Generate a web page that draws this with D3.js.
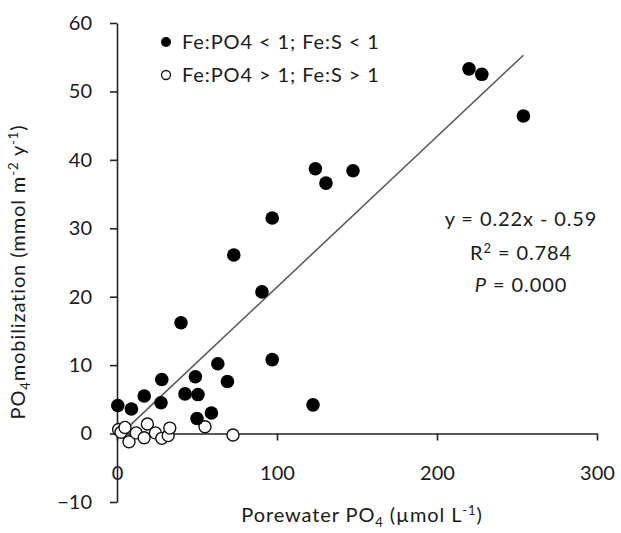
<!DOCTYPE html>
<html lang="en">
<head>
<meta charset="UTF-8">
<title>PO4 mobilization</title>
<script src="https://d3js.org/d3.v7.min.js"></script>
<style>
  body { margin: 0; background: #fff; }
  svg text { font-family: Lato, "Open Sans", sans-serif; fill: #1a1a1a; }
  .wide { letter-spacing: 0.9px; }
</style>
</head>
<body>
<svg class="chart"></svg>
<script>
const W = 621, H = 533

// Fe:PO4 < 1; Fe:S < 1  (filled)
const lowX = [0.5, 9, 17, 27.5, 28, 40, 42.5, 49, 50, 50.6, 59, 63, 69, 73, 90.6, 97, 97, 122.5, 124, 130.6, 147.5, 220, 228, 254]
const lowY = [4.1, 3.6, 5.5, 4.5, 7.9, 16.2, 5.8, 8.3, 2.2, 5.7, 3.0, 10.2, 7.6, 26.1, 20.7, 31.5, 10.8, 4.2, 38.7, 36.6, 38.4, 53.3, 52.5, 46.4]
// Fe:PO4 > 1; Fe:S > 1  (open)
const highX = [1, 2.5, 5, 7.5, 12, 17, 19, 24, 28, 32, 33, 55, 72.5]
const highY = [0.6, 0.2, 0.9, -1.2, 0.1, -0.6, 1.4, 0.1, -0.7, -0.3, 0.8, 1.0, -0.2]

const xTicks = [0, 100, 200, 300]
const yTicks = [-10, 0, 10, 20, 30, 40, 50, 60]
const slope = 0.22, intercept = -0.59

const svg = d3.select(".chart").attr("width", W).attr("height", H)

const x = d3.scaleLinear().domain([0, 300]).range([117, 597])
const y = d3.scaleLinear().domain([-10, 60]).range([502, 23])

// y axis
const gy = svg.append("g").attr("transform", `translate(${x(0)},0)`)
  .call(d3.axisLeft(y).tickValues(yTicks).tickSize(7).tickPadding(18).tickSizeOuter(0))
gy.select(".domain").attr("stroke", "#222").attr("stroke-width", 1.6)
gy.selectAll(".tick line").attr("stroke", "#222").attr("stroke-width", 1.6)
gy.selectAll(".tick text").style("font-size", "20px").attr("fill", "#1a1a1a")

// x axis at y = 0
const gx = svg.append("g").attr("transform", `translate(0,${y(0)})`)
  .call(d3.axisBottom(x).tickValues(xTicks).tickSize(7).tickPadding(25).tickSizeOuter(0))
gx.select(".domain").attr("stroke", "#222").attr("stroke-width", 1.6)
gx.selectAll(".tick line").attr("stroke", "#222").attr("stroke-width", 1.6)
gx.selectAll(".tick text").style("font-size", "20px").attr("fill", "#1a1a1a")

// trend line
const allX = lowX.concat(highX)
const x0 = 3, x1 = d3.max(allX)
svg.append("line")
  .attr("x1", x(x0)).attr("y1", y(slope * x0 + intercept))
  .attr("x2", x(x1)).attr("y2", y(slope * x1 + intercept))
  .attr("stroke", "#555").attr("stroke-width", 1.5)

// points
svg.append("g").selectAll("circle").data(highX.map((d, i) => [d, highY[i]]))
  .join("circle")
  .attr("cx", d => x(d[0])).attr("cy", d => y(d[1])).attr("r", 6)
  .attr("fill", "#fff").attr("stroke", "#111").attr("stroke-width", 1.4)

svg.append("g").selectAll("circle").data(lowX.map((d, i) => [d, lowY[i]]))
  .join("circle")
  .attr("cx", d => x(d[0])).attr("cy", d => y(d[1])).attr("r", 6.8)
  .attr("fill", "#000")

// legend
const leg = svg.append("g")
leg.append("circle").attr("cx", 166).attr("cy", 42).attr("r", 5).attr("fill", "#000")
leg.append("circle").attr("cx", 166).attr("cy", 75).attr("r", 4.5).attr("fill", "#fff")
  .attr("stroke", "#111").attr("stroke-width", 1.3)
leg.append("text").attr("class", "wide").attr("x", 182).attr("y", 49).style("font-size", "20px").text("Fe:PO4 < 1; Fe:S < 1")
leg.append("text").attr("class", "wide").attr("x", 182).attr("y", 82).style("font-size", "20px").text("Fe:PO4 > 1; Fe:S > 1")

// regression text
const ann = svg.append("g").attr("class", "wide").style("font-size", "20px").attr("text-anchor", "middle")
ann.append("text").attr("x", 521).attr("y", 226).text(`y = ${slope}x - ${Math.abs(intercept)}`)
const r2 = ann.append("text").attr("x", 521).attr("y", 260)
r2.append("tspan").text("R")
r2.append("tspan").attr("dy", -7).style("font-size", "13px").text("2")
r2.append("tspan").attr("dy", 7).text(" = 0.784")
const pt = ann.append("text").attr("x", 521).attr("y", 292)
pt.append("tspan").style("font-style", "italic").text("P")
pt.append("tspan").text(" = 0.000")

// axis titles
const xt = svg.append("text").attr("class", "wide").attr("x", 362).attr("y", 522).attr("text-anchor", "middle").style("font-size", "20px")
xt.append("tspan").text("Porewater PO")
xt.append("tspan").attr("dy", 5).style("font-size", "13px").text("4")
xt.append("tspan").attr("dy", -5).text(" (\u00b5mol L")
xt.append("tspan").attr("dy", -7).style("font-size", "13px").text("-1")
xt.append("tspan").attr("dy", 7).text(")")

const yt = svg.append("text").attr("class", "wide").attr("transform", "translate(25,272) rotate(-90)")
  .attr("text-anchor", "middle").style("font-size", "20px")
yt.append("tspan").text("PO")
yt.append("tspan").attr("dy", 5).style("font-size", "13px").text("4")
yt.append("tspan").attr("dy", -5).text("mobilization (mmol m")
yt.append("tspan").attr("dy", -7).style("font-size", "13px").text("-2")
yt.append("tspan").attr("dy", 7).text(" y")
yt.append("tspan").attr("dy", -7).style("font-size", "13px").text("-1")
yt.append("tspan").attr("dy", 7).text(")")
</script>
</body>
</html>
